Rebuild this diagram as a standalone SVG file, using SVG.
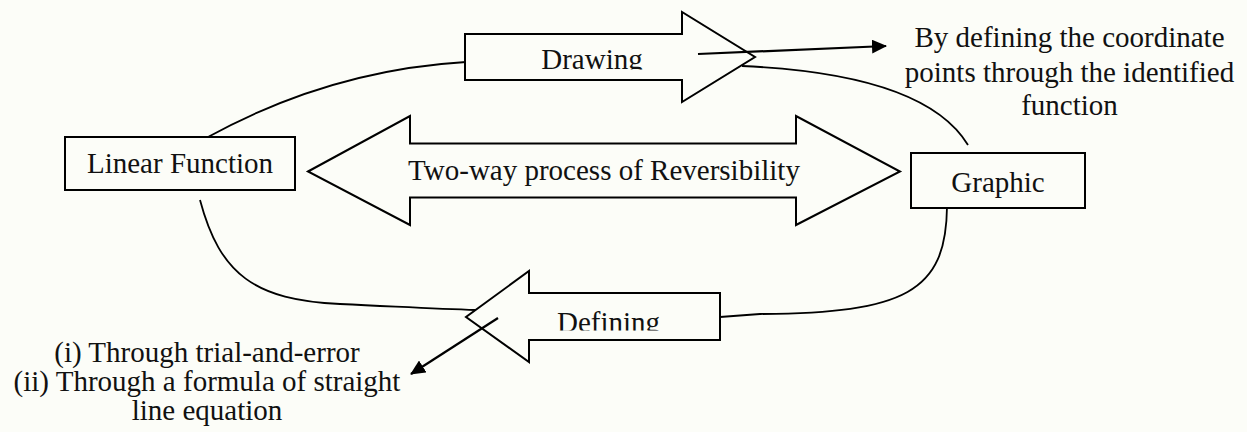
<svg xmlns="http://www.w3.org/2000/svg" width="1247" height="432" viewBox="0 0 1247 432">
  <style>
    .bg { fill: #fcfdf8; }
    .box { fill: #fcfdf8; stroke: #000; stroke-width: 2; }
    .curve { fill: none; stroke: #000; stroke-width: 1.8; }
    .ptr { fill: none; stroke: #000; stroke-width: 2.2; }
    .t { font-family: "Liberation Serif", "Times New Roman", serif; font-size: 29px; fill: #111; text-anchor: middle; }
  </style>
  <defs>
    <marker id="head" markerUnits="userSpaceOnUse" markerWidth="16" markerHeight="14" refX="14" refY="7" orient="auto">
      <path d="M0,0 L15,7 L0,14 z" fill="#000"/>
    </marker>
    <clipPath id="clipDrawing"><rect x="465" y="34" width="217" height="35.5"/></clipPath>
    <clipPath id="clipDefining"><rect x="530" y="293" width="190" height="37.5"/></clipPath>
  </defs>
  <rect class="bg" x="0" y="0" width="1247" height="432"/>

  <g id="connectors">
    <path class="curve" d="M208,137 Q330,70 466,62"/>
    <path class="curve" d="M742,66 Q925,74 968,145"/>
    <path class="curve" d="M200,200 C220,275 255,300 340,304 S440,309 476,310"/>
    <path class="curve" d="M947,207 C946,292 905,313 760,314 L720,317"/>
  </g>

  <g id="node-linear-function">
    <rect class="box" x="65" y="137" width="230" height="53"/>
    <text class="t" x="180" y="173">Linear Function</text>
  </g>

  <g id="node-graphic">
    <rect class="box" x="911" y="153" width="174" height="55"/>
    <text class="t" x="998" y="192">Graphic</text>
  </g>

  <g id="arrow-drawing">
    <polygon class="box" points="465,34 682,34 682,12 755,57 682,102 682,80 465,80"/>
    <text class="t" x="592" y="68.5" clip-path="url(#clipDrawing)">Drawing</text>
  </g>

  <g id="arrow-reversibility">
    <polygon class="box" points="308,171.5 410,116 410,143.5 796,143.5 796,116 900,171.5 796,225 796,197.5 410,197.5 410,225"/>
    <text class="t" x="604" y="180">Two-way process of Reversibility</text>
  </g>

  <g id="arrow-defining">
    <polygon class="box" points="720,293 529,293 529,271 466,317 529,362 529,340 720,340"/>
    <text class="t" x="608.5" y="332" clip-path="url(#clipDefining)">Defining</text>
  </g>

  <g id="pointers">
    <line class="ptr" x1="698" y1="54" x2="886" y2="46" marker-end="url(#head)"/>
    <line class="ptr" x1="498" y1="318" x2="411" y2="374" marker-end="url(#head)"/>
  </g>

  <g id="note-drawing">
    <text class="t" x="1069.5" y="47">By defining the coordinate</text>
    <text class="t" x="1069.5" y="81.5">points through the identified</text>
    <text class="t" x="1069.5" y="115">function</text>
  </g>

  <g id="note-defining">
    <text class="t" x="207" y="362">(i) Through trial-and-error</text>
    <text class="t" x="207" y="391">(ii) Through a formula of straight</text>
    <text class="t" x="207" y="420">line equation</text>
  </g>
</svg>
